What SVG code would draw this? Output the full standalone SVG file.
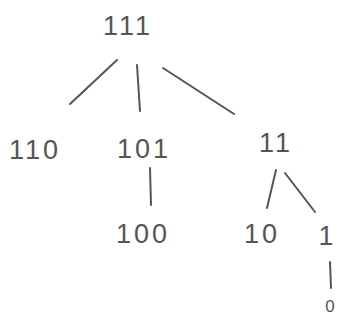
<svg xmlns="http://www.w3.org/2000/svg" width="339" height="323" viewBox="0 0 339 323">
<style>
text{font-family:"Liberation Sans",Arial,sans-serif;font-size:27px;fill:#555;text-anchor:middle;letter-spacing:3px}
line{stroke:#555;stroke-width:2;stroke-linecap:round}
</style>
<rect width="339" height="323" fill="#fff"/>
<g id="connectors">
<line x1="117" y1="60" x2="70" y2="104"/>
<line x1="137" y1="65" x2="140" y2="111"/>
<line x1="163" y1="68" x2="234" y2="114"/>
<line x1="150" y1="168" x2="151" y2="205"/>
<line x1="276" y1="170" x2="267" y2="208"/>
<line x1="285" y1="173" x2="315" y2="212"/>
<line x1="330" y1="262" x2="331" y2="288"/>
</g>
<g id="n111"><text x="128" y="35">111</text></g>
<g id="n110"><text x="35" y="159">110</text></g>
<g id="n101"><text x="144" y="158">101</text></g>
<g id="n11"><text x="276" y="152">11</text></g>
<g id="n100"><text x="143" y="243">100</text></g>
<g id="n10"><text x="262" y="243">10</text></g>
<g id="n1"><text x="326" y="245" style="letter-spacing:0">1</text></g>
<g id="n0"><text x="330" y="312" style="font-size:17px;letter-spacing:0">0</text></g>
</svg>
